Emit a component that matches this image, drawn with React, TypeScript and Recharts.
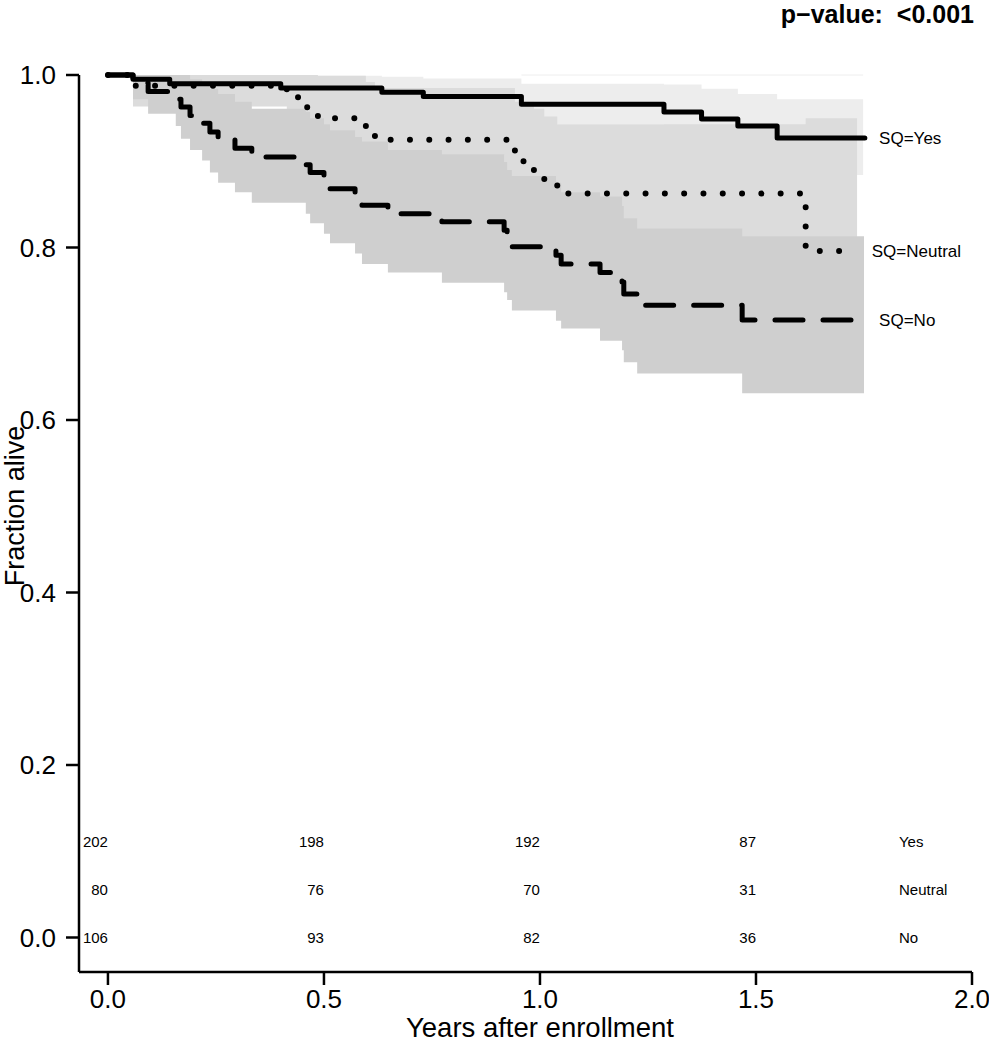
import React from 'react';
import {
  ComposedChart,
  Area,
  Line,
  XAxis,
  YAxis,
  Scatter,
  ReferenceLine,
  Customized,
} from 'recharts';

const FONT = '"Liberation Sans", Arial, Helvetica, sans-serif';

// ---------- Kaplan-Meier curves (time in years, survival fraction) ----------
const yesTimes = [0, 0.058, 0.143, 0.4, 0.634, 0.73, 0.957, 1.287, 1.374, 1.458, 1.549, 1.752];
const yesSurv = [1.0, 0.995, 0.99, 0.985, 0.98, 0.975, 0.966, 0.957, 0.949, 0.941, 0.927, 0.927];

const neutralTimes = [0, 0.058, 0.414, 0.44, 0.486, 0.597, 0.618, 0.942, 0.986, 1.01, 1.04, 1.615, 1.734];
const neutralSurv = [1.0, 0.9875, 0.975, 0.9625, 0.95, 0.9375, 0.925, 0.9, 0.8875, 0.875, 0.8625, 0.796, 0.796];

const noTimes = [0, 0.058, 0.093, 0.157, 0.169, 0.19, 0.218, 0.236, 0.255, 0.294, 0.333, 0.458, 0.468, 0.5, 0.514, 0.572, 0.588, 0.648, 0.773, 0.917, 0.924, 0.935, 1.037, 1.049, 1.139, 1.19, 1.194, 1.225, 1.468, 1.752];
const noSurv = [1.0, 0.9906, 0.981, 0.972, 0.963, 0.953, 0.944, 0.934, 0.925, 0.915, 0.905, 0.896, 0.887, 0.877, 0.868, 0.858, 0.849, 0.839, 0.83, 0.82, 0.811, 0.801, 0.791, 0.781, 0.771, 0.76, 0.746, 0.733, 0.716, 0.716];

// ---------- confidence bands ----------
const yesBandTimes = [0.058, 0.143, 0.4, 0.634, 0.73, 0.957, 1.287, 1.374, 1.458, 1.549, 1.748];
const yesLower = [0.99, 0.98, 0.971, 0.962, 0.954, 0.943, 0.927, 0.915, 0.905, 0.884, 0.884];
const yesUpper = [1.0, 1.0, 0.999, 0.998, 0.996, 0.99, 0.989, 0.984, 0.978, 0.972, 0.972];

const neutralBandTimes = [0.058, 0.414, 0.44, 0.486, 0.597, 0.618, 0.942, 0.986, 1.01, 1.04, 1.615, 1.734];
const neutralLower = [0.9635, 0.941, 0.922, 0.903, 0.886, 0.869, 0.836, 0.82, 0.804, 0.789, 0.667, 0.667];
const neutralUpper = [1.0, 1.0, 1.0, 0.999, 0.992, 0.985, 0.969, 0.961, 0.952, 0.943, 0.95, 0.95];

const noBandTimes = [0.058, 0.093, 0.157, 0.169, 0.19, 0.218, 0.236, 0.255, 0.294, 0.333, 0.458, 0.468, 0.5, 0.514, 0.572, 0.588, 0.648, 0.773, 0.917, 0.924, 0.935, 1.037, 1.049, 1.139, 1.19, 1.194, 1.225, 1.468, 1.75];
const noLower = [0.972, 0.955, 0.941, 0.926, 0.913, 0.901, 0.887, 0.875, 0.864, 0.852, 0.839, 0.828, 0.816, 0.805, 0.793, 0.781, 0.771, 0.759, 0.748, 0.739, 0.727, 0.715, 0.706, 0.692, 0.681, 0.667, 0.654, 0.631, 0.631];
const noUpper = [1.0, 1.0, 1.0, 1.0, 0.995, 0.989, 0.984, 0.978, 0.969, 0.961, 0.957, 0.95, 0.943, 0.936, 0.928, 0.923, 0.913, 0.908, 0.899, 0.89, 0.883, 0.875, 0.864, 0.859, 0.848, 0.834, 0.822, 0.813, 0.813];

// ---------- numbers at risk ----------
const riskTimes = [0, 0.5, 1.0, 1.5];
const riskYes = [202, 198, 192, 87];
const riskNeutral = [80, 76, 70, 31];
const riskNo = [106, 93, 82, 36];
const riskGroups = ['Yes', 'Neutral', 'No'];
const riskRowLevels = [0.1113, 0.0557, 0.0];
const riskLabelTime = 1.831;

// ---------- curve end labels ----------
const curveLabels = ['SQ=Yes', 'SQ=Neutral', 'SQ=No'];
const curveLabelTimes = [1.785, 1.768, 1.785];
const curveLabelLevels = [0.927, 0.796, 0.716];

const xTicks = [0, 0.5, 1.0, 1.5, 2.0];
const yTicks = [0, 0.2, 0.4, 0.6, 0.8, 1.0];
const pValueText = 'p\u2212value:  <0.001';

const stepData = (times: number[], surv: number[]) => times.map((t, i) => ({ t, s: surv[i] }));
const bandData = (times: number[], lo: number[], hi: number[]) =>
  times.map((t, i) => ({ t, range: [lo[i], hi[i]] }));

const yesLine = stepData(yesTimes, yesSurv);
const neutralLine = stepData(neutralTimes, neutralSurv);
const noLine = stepData(noTimes, noSurv);
const yesBand = bandData(yesBandTimes, yesLower, yesUpper);
const neutralBand = bandData(neutralBandTimes, neutralLower, neutralUpper);
const noBand = bandData(noBandTimes, noLower, noUpper);

const riskRows = [riskYes, riskNeutral, riskNo].map((vals, r) =>
  vals.map((v, i) => ({ t: riskTimes[i], s: riskRowLevels[r], label: String(v) }))
);
const riskGroupLabels = riskGroups.map((g, r) => ({ t: riskLabelTime, s: riskRowLevels[r], label: g }));
const curveLabelData = curveLabels.map((l, i) => ({ t: curveLabelTimes[i], s: curveLabelLevels[i], label: l }));

const EndText = (props: any) => (
  <text x={props.cx} y={props.cy} dy="0.35em" textAnchor="end" fontSize={15} fontFamily={FONT} fill="#000">
    {props.payload.label}
  </text>
);
const StartText = (size: number) => (props: any) => (
  <text x={props.cx} y={props.cy} dy="0.35em" textAnchor="start" fontSize={size} fontFamily={FONT} fill="#000">
    {props.payload.label}
  </text>
);

const W = 989;
const H = 1050;

const Titles = () => (
  <g fontFamily={FONT} fill="#000">
    <text x={974} y={23} textAnchor="end" fontSize={25} fontWeight="bold" style={{ whiteSpace: 'pre' }}>
      {pValueText}
    </text>
    <text x={540} y={1037} textAnchor="middle" fontSize={27.5}>
      Years after enrollment
    </text>
    <text transform="translate(24,506) rotate(-90)" textAnchor="middle" fontSize={27}>
      Fraction alive
    </text>
  </g>
);

export default function App() {
  return (
    <div style={{ width: W, height: H, background: '#fff' }}>
      <style>{'html,body{margin:0;padding:0;background:#fff}'}</style>
      <ComposedChart width={W} height={H} margin={{ top: 75, right: 17, bottom: 0, left: 0 }}>
        <XAxis
          type="number"
          dataKey="t"
          domain={[-0.067, 2]}
          ticks={xTicks}
          tickFormatter={(v: number) => v.toFixed(1)}
          height={78}
          tickSize={13}
          tickMargin={5}
          stroke="#000"
          strokeWidth={2.5}
          tick={{ fontSize: 26, fontFamily: FONT, fill: '#000' }}
          tickLine={{ stroke: '#000', strokeWidth: 2.5 }}
        />
        <YAxis
          type="number"
          domain={[-0.04, 1.0]}
          ticks={yTicks}
          tickFormatter={(v: number) => v.toFixed(1)}
          width={79}
          tickSize={13}
          tickMargin={10}
          stroke="#000"
          strokeWidth={2.5}
          tick={{ fontSize: 26, fontFamily: FONT, fill: '#000' }}
          tickLine={{ stroke: '#000', strokeWidth: 2.5 }}
        />
        <Area data={yesBand} dataKey="range" type="stepAfter" stroke="none" fill="#ededed" fillOpacity={1} isAnimationActive={false} dot={false} activeDot={false} />
        <Area data={neutralBand} dataKey="range" type="stepAfter" stroke="none" fill="#dcdcdc" fillOpacity={1} isAnimationActive={false} dot={false} activeDot={false} />
        <Area data={noBand} dataKey="range" type="stepAfter" stroke="none" fill="#cfcfcf" fillOpacity={1} isAnimationActive={false} dot={false} activeDot={false} />
        <ReferenceLine segment={[{ x: 0.957, y: 1.0 }, { x: 1.748, y: 1.0 }]} stroke="#eeeeee" strokeWidth={1} />
        <Line data={noLine} dataKey="s" type="stepAfter" stroke="#000" strokeWidth={5} strokeDasharray="28 20" strokeLinecap="round" strokeLinejoin="round" dot={false} activeDot={false} isAnimationActive={false} />
        <Line data={neutralLine} dataKey="s" type="stepAfter" stroke="#000" strokeWidth={6} strokeDasharray="0 19.3" strokeLinecap="round" strokeLinejoin="round" dot={false} activeDot={false} isAnimationActive={false} />
        <Line data={yesLine} dataKey="s" type="stepAfter" stroke="#000" strokeWidth={5} strokeLinecap="round" strokeLinejoin="round" dot={false} activeDot={false} isAnimationActive={false} />
        {riskRows.map((row, r) => (
          <Scatter key={'risk' + r} data={row} dataKey="s" shape={EndText} isAnimationActive={false} />
        ))}
        <Scatter data={riskGroupLabels} dataKey="s" shape={StartText(15)} isAnimationActive={false} />
        <Scatter data={curveLabelData} dataKey="s" shape={StartText(17)} isAnimationActive={false} />
        <Customized component={Titles} />
      </ComposedChart>
    </div>
  );
}
